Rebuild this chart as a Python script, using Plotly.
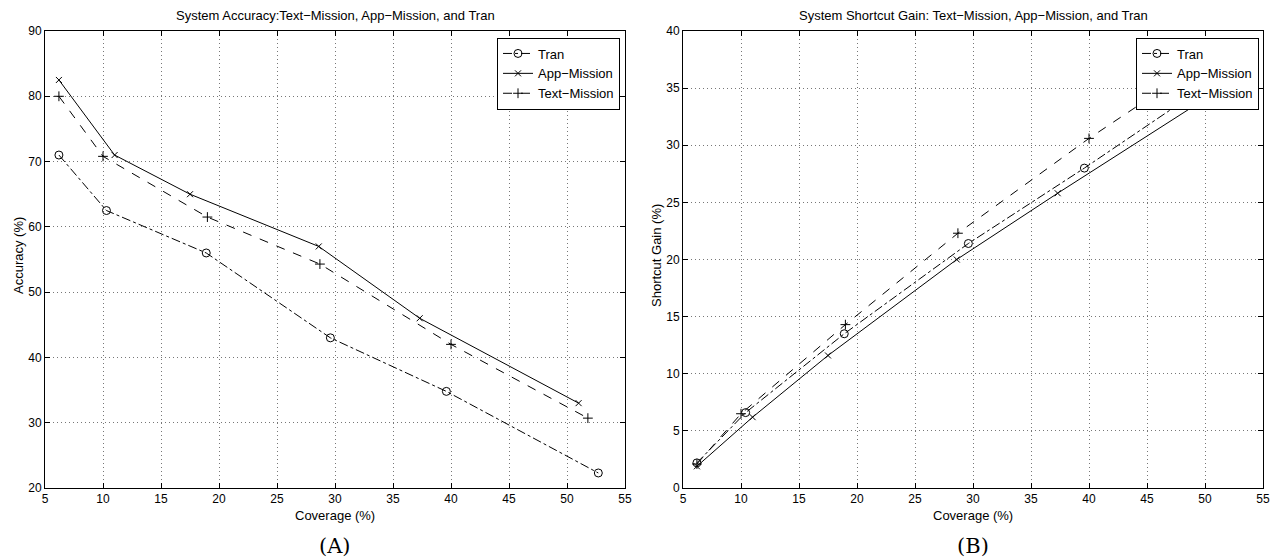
import plotly.graph_objects as go

# ---- data ----
series_names = ["Tran", "App\u2212Mission", "Text\u2212Mission"]

acc_tran_x = [6.2, 10.3, 18.9, 29.6, 39.6, 52.7]
acc_tran_y = [71.0, 62.5, 56.0, 43.0, 34.8, 22.3]
acc_app_x = [6.2, 11.0, 17.5, 28.6, 37.3, 51.0]
acc_app_y = [82.5, 71.0, 65.0, 57.0, 46.0, 33.0]
acc_text_x = [6.2, 10.0, 19.0, 28.7, 40.0, 51.8]
acc_text_y = [80.0, 70.8, 61.5, 54.3, 42.0, 30.7]

gain_tran_x = [6.2, 10.4, 18.9, 29.6, 39.6, 52.7]
gain_tran_y = [2.2, 6.6, 13.5, 21.4, 28.0, 37.0]
gain_app_x = [6.2, 11.0, 17.5, 28.6, 37.3, 51.0]
gain_app_y = [1.9, 6.2, 11.6, 20.0, 25.8, 34.7]
gain_text_x = [6.2, 10.0, 19.0, 28.7, 40.0, 51.8]
gain_text_y = [2.1, 6.5, 14.3, 22.3, 30.6, 38.6]

x_ticks = [5, 10, 15, 20, 25, 30, 35, 40, 45, 50, 55]
acc_ticks = [20, 30, 40, 50, 60, 70, 80, 90]
gain_ticks = [0, 5, 10, 15, 20, 25, 30, 35, 40]

titles = ["System Accuracy:Text\u2212Mission, App\u2212Mission, and Tran",
          "System Shortcut Gain: Text\u2212Mission, App\u2212Mission, and Tran"]
y_titles = ["Accuracy (%)", "Shortcut Gain (%)"]
x_title = "Coverage (%)"
panel_labels = ["(A)", "(B)"]

W, H = 1271, 560
FONT = "Liberation Sans, Arial, Helvetica, sans-serif"
SERIF = "DejaVu Serif, Liberation Serif, serif"


def px(x):
    return x / W


def py(y):
    return 1 - y / H


styles = [
    dict(dash="dashdot", symbol="circle-open", size=8),
    dict(dash="solid", symbol="x-thin-open", size=6),
    dict(dash="dash", symbol="cross-thin-open", size=7),
]

fig = go.Figure()

panels = [
    (1, [(acc_tran_x, acc_tran_y), (acc_app_x, acc_app_y), (acc_text_x, acc_text_y)]),
    (2, [(gain_tran_x, gain_tran_y), (gain_app_x, gain_app_y), (gain_text_x, gain_text_y)]),
]

for p, data in panels:
    xa = "x" if p == 1 else "x2"
    ya = "y" if p == 1 else "y2"
    for i, (xs, ys) in enumerate(data):
        st = styles[i]
        fig.add_trace(go.Scatter(
            x=xs, y=ys, mode="lines+markers", name=series_names[i],
            xaxis=xa, yaxis=ya,
            legend="legend" if p == 1 else "legend2",
            line=dict(color="black", width=1, dash=st["dash"]),
            marker=dict(symbol=st["symbol"], size=st["size"], color="black",
                        line=dict(color="black", width=1)),
            cliponaxis=True,
        ))

P1 = (45, 625)
P2 = (683, 1263)
dom1 = [px(P1[0]), px(P1[1])]
dom2 = [px(P2[0]), px(P2[1])]
ydom = [py(488), py(31)]

axis_common = dict(
    automargin=False,
    showline=True, mirror="ticks", linecolor="black", linewidth=1,
    ticks="inside", ticklen=5, tickcolor="black", tickwidth=1,
    showgrid=True, gridcolor="#777", gridwidth=1, griddash="1px,3px",
    zeroline=False, tickfont=dict(family=FONT, size=12, color="black"),
)

legend_common = dict(
    xanchor="right", y=py(37.5), yanchor="top",
    bgcolor="white", bordercolor="black", borderwidth=1,
    font=dict(family=FONT, size=13, color="black"),
    itemwidth=30, tracegroupgap=0,
)

fig.update_layout(
    width=W, height=H,
    margin=dict(l=0, r=0, t=0, b=0, autoexpand=False),
    paper_bgcolor="white", plot_bgcolor="white",
    font=dict(family=FONT, color="black"),
    xaxis=dict(domain=dom1, range=[5, 55], tickvals=x_ticks, anchor="y", **axis_common),
    yaxis=dict(domain=ydom, range=[20, 90], tickvals=acc_ticks, anchor="x", **axis_common),
    xaxis2=dict(domain=dom2, range=[5, 55], tickvals=x_ticks, anchor="y2", **axis_common),
    yaxis2=dict(domain=ydom, range=[0, 40], tickvals=gain_ticks, anchor="x2", **axis_common),
    legend=dict(x=px(620), **legend_common),
    legend2=dict(x=px(1259), **legend_common),
    showlegend=True,
)

annotations = []
for k, (a, b) in enumerate([P1, P2]):
    cx = px((a + b) / 2)
    annotations.append(dict(text=titles[k], x=cx, y=py(15), xref="paper", yref="paper",
                            showarrow=False, xanchor="center", yanchor="middle",
                            font=dict(family=FONT, size=13, color="black")))
    annotations.append(dict(text=x_title, x=cx, y=py(515), xref="paper", yref="paper",
                            showarrow=False, xanchor="center", yanchor="middle",
                            font=dict(family=FONT, size=13, color="black")))
    annotations.append(dict(text=panel_labels[k], x=cx, y=py(546), xref="paper", yref="paper",
                            showarrow=False, xanchor="center", yanchor="middle",
                            borderpad=0,
                            font=dict(family=SERIF, size=21, color="black")))
    annotations.append(dict(text=y_titles[k], x=px(a - 26), y=py(256),
                            xref="paper", yref="paper", showarrow=False, textangle=-90,
                            xanchor="center", yanchor="middle",
                            font=dict(family=FONT, size=13, color="black")))
fig.update_layout(annotations=annotations)

# remove the default 8px page margin so the figure fills the 1271x560 window exactly
fig.write_html("out.html",
               config={"displayModeBar": False},
               post_script="document.body.style.margin='0';document.body.style.overflow='hidden';")
